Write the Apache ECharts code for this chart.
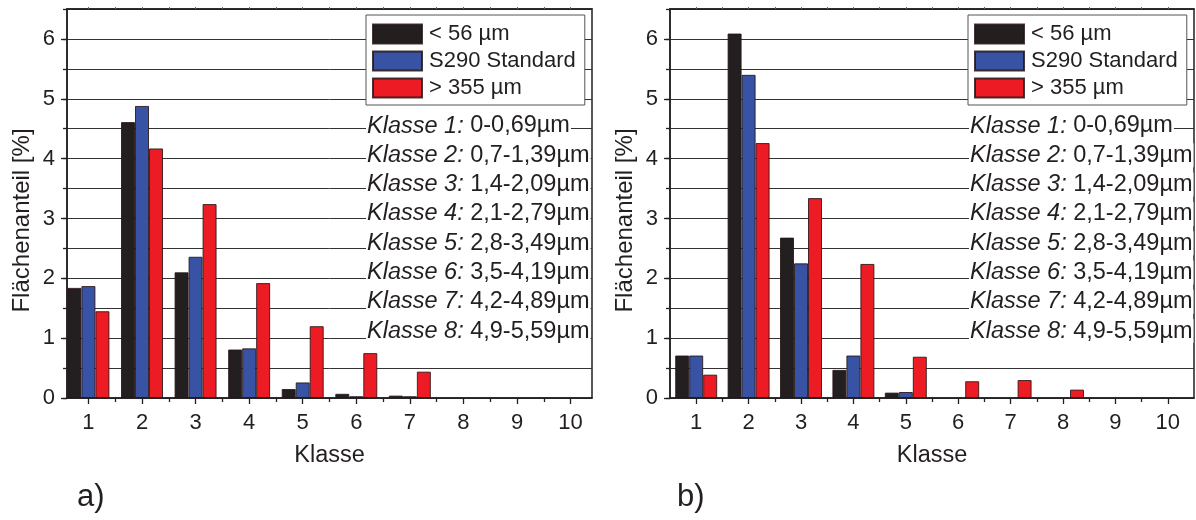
<!DOCTYPE html>
<html><head><meta charset="utf-8">
<script src="https://cdn.jsdelivr.net/npm/echarts@6/dist/echarts.min.js"></script>
<style>html,body{margin:0;padding:0;background:#fff}#c{width:1196px;height:520px}</style>
</head><body><div id="c"></div>
<script>
// ---- data ----
const classes = [1, 2, 3, 4, 5, 6, 7, 8, 9, 10];
const halfTicks = [1.5, 2.5, 3.5, 4.5, 5.5, 6.5, 7.5, 8.5, 9.5];
const topTicks = [1, 1.5, 2, 2.5, 3, 3.5, 4, 4.5, 5, 5.5, 6, 6.5, 7, 7.5, 8, 8.5, 9, 9.5, 10];
const yTicks = [0, 1, 2, 3, 4, 5, 6];
const seriesNames = ['< 56 µm', 'S290 Standard', '> 355 µm'];
// panel a)
const aFine   = [1.84, 4.61, 2.10, 0.81, 0.15, 0.07, 0.04, 0, 0, 0];
const aStd    = [1.87, 4.88, 2.36, 0.83, 0.26, 0.03, 0.03, 0, 0, 0];
const aCoarse = [1.45, 4.17, 3.24, 1.92, 1.20, 0.75, 0.44, 0, 0, 0];
// panel b)
const bFine   = [0.71, 6.09, 2.68, 0.47, 0.09, 0, 0, 0, 0, 0];
const bStd    = [0.71, 5.40, 2.25, 0.71, 0.10, 0, 0, 0, 0, 0];
const bCoarse = [0.39, 4.26, 3.34, 2.24, 0.69, 0.28, 0.30, 0.14, 0, 0];
const classRanges = ['0-0,69', '0,7-1,39', '1,4-2,09', '2,1-2,79', '2,8-3,49', '3,5-4,19', '4,2-4,89', '4,9-5,59'];
const panelLabels = ['a)', 'b)'];
const xLabel = 'Klasse';
const yLabel = 'Flächenanteil [%]';

// ---- styling ----
const INK = '#231f20';
const FONT = '"Liberation Sans", Arial, Helvetica, sans-serif';
const colors = ['#231f20', '#3953a4', '#ed1c24'];
const panels = [
  { grid: { left: 67, right: 604, top: 9, bottom: 122 }, xMin: 0.6, xMax: 10.4, sets: [aFine, aStd, aCoarse], legendLeft: 366, annX: 366, labelX: 77 },
  { grid: { left: 670, right: 2, top: 9, bottom: 122 }, xMin: 0.5, xMax: 10.5, sets: [bFine, bStd, bCoarse], legendLeft: 968, annX: 969, labelX: 677 }
];

const grids = [], xAxes = [], yAxes = [], series = [], legends = [], graphics = [];
panels.forEach((p, pi) => {
  grids.push(Object.assign({ show: true, borderColor: INK, borderWidth: 1.5, backgroundColor: 'transparent' }, p.grid));
  // main bottom axis
  xAxes.push({
    gridIndex: pi, type: 'value', position: 'bottom', min: p.xMin, max: p.xMax,
    name: xLabel, nameLocation: 'middle', nameGap: 46,
    nameTextStyle: { color: INK, fontSize: 23.5, fontFamily: FONT },
    axisLine: { show: true, lineStyle: { color: INK, width: 1.5 } },
    axisTick: { show: true, customValues: classes, length: 6, lineStyle: { color: INK, width: 1.3 } },
    axisLabel: { show: true, customValues: classes, color: INK, fontSize: 22, fontFamily: FONT, margin: 14 },
    splitLine: { show: false }
  });
  // minor ticks bottom
  xAxes.push({
    gridIndex: pi, type: 'value', position: 'bottom', min: p.xMin, max: p.xMax,
    axisLine: { show: false },
    axisTick: { show: true, customValues: halfTicks, length: 4, lineStyle: { color: INK, width: 1.3 } },
    axisLabel: { show: false }, splitLine: { show: false }
  });
  // top mirror axis
  xAxes.push({
    gridIndex: pi, type: 'value', position: 'top', min: p.xMin, max: p.xMax,
    axisLine: { show: true, lineStyle: { color: INK, width: 1.5 } },
    axisTick: { show: true, customValues: topTicks, length: 2, lineStyle: { color: '#666', width: 1 } },
    axisLabel: { show: false }, splitLine: { show: false }
  });
  // main left axis: grid lines every 0.5
  yAxes.push({
    gridIndex: pi, type: 'value', position: 'left', min: 0, max: 6.5, interval: 0.5,
    name: yLabel, nameLocation: 'middle', nameGap: 33, nameRotate: 90,
    nameTextStyle: { color: INK, fontSize: 24, fontFamily: FONT, padding: [0, 34, 0, 0] },
    axisLine: { show: true, lineStyle: { color: INK, width: 1.5 } },
    axisTick: { show: true, length: 4, lineStyle: { color: INK, width: 1.3 } },
    axisLabel: { show: true, customValues: yTicks, color: INK, fontSize: 22, fontFamily: FONT, margin: 12 },
    splitLine: { show: true, lineStyle: { color: '#333', width: 1 } }
  });
  // major ticks on left
  yAxes.push({
    gridIndex: pi, type: 'value', position: 'left', min: 0, max: 6.5,
    axisLine: { show: false },
    axisTick: { show: true, customValues: yTicks, length: 6, lineStyle: { color: INK, width: 1.3 } },
    axisLabel: { show: false }, splitLine: { show: false }
  });
  p.sets.forEach((vals, si) => {
    series.push({
      type: 'bar', name: seriesNames[si], xAxisIndex: pi * 3, yAxisIndex: pi * 2,
      barWidth: 14, barGap: '0%',
      itemStyle: { color: colors[si], borderColor: 'rgba(40,20,20,0.85)', borderWidth: 1 },
      emphasis: { disabled: true },
      data: classes.map((c, i) => vals[i] > 0 ? [c, vals[i]] : null).filter(d => d)
    });
  });
  legends.push({
    left: p.legendLeft, top: 15, orient: 'vertical', selectedMode: false,
    data: seriesNames, icon: 'rect', itemWidth: 49, itemHeight: 19, itemGap: 5,
    backgroundColor: '#fff', borderColor: '#555', borderWidth: 1, borderRadius: 0,
    padding: [8, 9, 6, 6],
    textStyle: { color: INK, fontSize: 22, fontFamily: FONT, lineHeight: 19, padding: [0, 0, 0, 2] }
  });
  classRanges.forEach((r, k) => {
    graphics.push({
      type: 'text', x: p.annX, y: 126 + k * 29.3, z: 50,
      style: {
        text: '{i|Klasse ' + (k + 1) + ':} ' + r + 'µm',
        rich: { i: { fontStyle: 'italic', fontSize: 23.5, fontFamily: FONT, fill: INK } },
        fontSize: 23.5, fontFamily: FONT, fill: INK, verticalAlign: 'middle',
        backgroundColor: '#fff', padding: [0, 1]
      }
    });
  });
  graphics.push({
    type: 'text', x: p.labelX, y: 497,
    style: { text: panelLabels[pi], fontSize: 31, fontFamily: FONT, fill: INK, verticalAlign: 'middle' }
  });
});

const chart = echarts.init(document.getElementById('c'), null, { renderer: 'canvas' });
chart.setOption({
  animation: false,
  backgroundColor: '#fff',
  grid: grids, xAxis: xAxes, yAxis: yAxes, series: series, legend: legends, graphic: graphics
});
</script></body></html>
